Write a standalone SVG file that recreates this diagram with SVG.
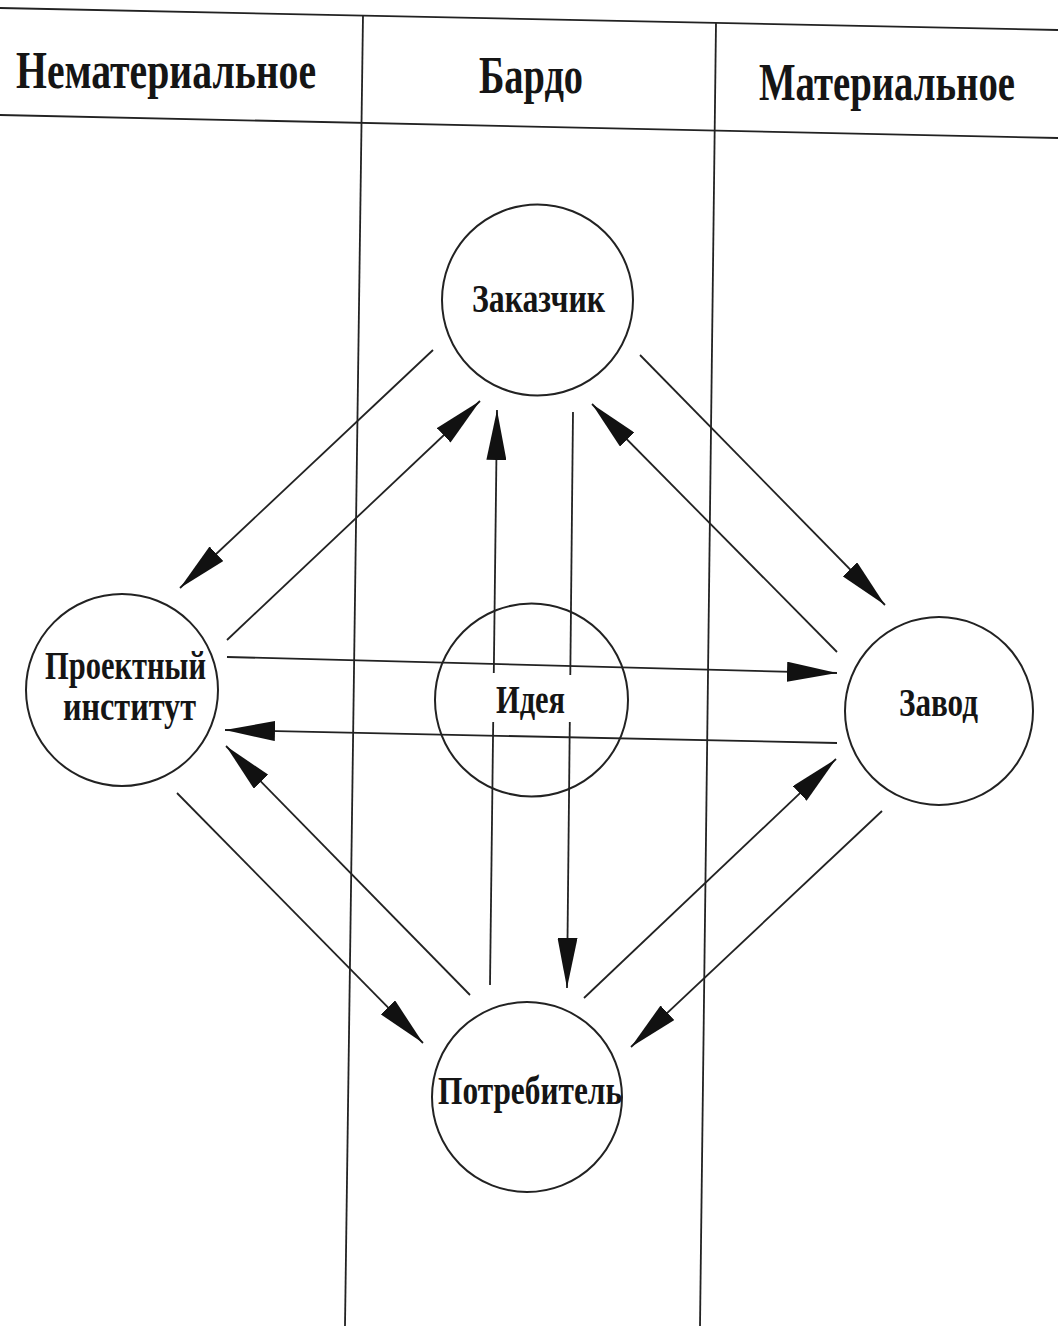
<svg xmlns="http://www.w3.org/2000/svg" width="1058" height="1326" viewBox="0 0 1058 1326">
  <defs>
    <marker id="arr" viewBox="0 0 50 20" refX="50" refY="10" markerWidth="50" markerHeight="20" markerUnits="userSpaceOnUse" orient="auto">
      <path d="M0,0 L50,10 L0,20 Z" fill="#111"/>
    </marker>
    <style>
      .ln { stroke: #222; stroke-width: 1.8; fill: none; }
      .arrow { stroke: #222; stroke-width: 1.8; fill: none; marker-end: url(#arr); }
      .node { fill: #fff; stroke: #222; stroke-width: 2; }
      .nt { font-family: "Liberation Serif", "DejaVu Serif", serif; font-weight: bold; font-size: 41px; fill: #151515; }
      .ht { font-family: "Liberation Serif", "DejaVu Serif", serif; font-weight: bold; font-size: 52px; fill: #151515; }
    </style>
  </defs>
  <rect width="1058" height="1326" fill="#ffffff"/>

  <g id="table">
    <line class="ln" x1="0" y1="8" x2="1058" y2="30"/>
    <line class="ln" x1="0" y1="115" x2="1058" y2="138"/>
    <line class="ln" x1="363" y1="15" x2="345" y2="1326"/>
    <line class="ln" x1="716" y1="23" x2="700" y2="1326"/>
    <text class="ht" x="16" y="88" textLength="300" lengthAdjust="spacingAndGlyphs">Нематериальное</text>
    <text class="ht" x="479" y="93" textLength="104" lengthAdjust="spacingAndGlyphs">Бардо</text>
    <text class="ht" x="759" y="100" textLength="256" lengthAdjust="spacingAndGlyphs">Материальное</text>
  </g>

  <g id="connectors">
    <line class="arrow" x1="433" y1="350" x2="180" y2="588"/>
    <line class="arrow" x1="227" y1="640" x2="480" y2="401"/>
    <line class="ln" x1="490" y1="985" x2="493.2" y2="722"/>
    <line class="arrow" x1="493.8" y1="673" x2="497" y2="410"/>
    <line class="ln" x1="573" y1="412" x2="570.3" y2="675"/>
    <line class="arrow" x1="569.8" y1="722" x2="567" y2="988"/>
    <line class="arrow" x1="640" y1="355" x2="885" y2="605"/>
    <line class="arrow" x1="837" y1="652" x2="592" y2="404"/>
    <line class="arrow" x1="227" y1="657" x2="837" y2="673"/>
    <line class="arrow" x1="837" y1="743" x2="225" y2="730"/>
    <line class="arrow" x1="177" y1="793" x2="423" y2="1043"/>
    <line class="arrow" x1="470" y1="995" x2="226" y2="746"/>
    <line class="arrow" x1="584" y1="998" x2="836" y2="759"/>
    <line class="arrow" x1="882" y1="811" x2="631" y2="1047"/>
  </g>

  <g id="node-zakazchik">
    <circle class="node" cx="537.5" cy="300" r="95.5"/>
    <text class="nt" x="472" y="312" textLength="133" lengthAdjust="spacingAndGlyphs">Заказчик</text>
  </g>
  <g id="node-proektny">
    <circle class="node" cx="122" cy="690" r="96"/>
    <text class="nt" x="45" y="679" textLength="161" lengthAdjust="spacingAndGlyphs">Проектный</text>
    <text class="nt" x="63" y="720" textLength="133" lengthAdjust="spacingAndGlyphs">институт</text>
  </g>
  <g id="node-ideya">
    <circle cx="531.5" cy="700" r="96.5" fill="none" stroke="#222" stroke-width="2"/>
    <text class="nt" x="496" y="713" textLength="69" lengthAdjust="spacingAndGlyphs">Идея</text>
  </g>
  <g id="node-zavod">
    <circle class="node" cx="939" cy="711" r="94"/>
    <text class="nt" x="899" y="716" textLength="79" lengthAdjust="spacingAndGlyphs">Завод</text>
  </g>
  <g id="node-potrebitel">
    <circle class="node" cx="527" cy="1097" r="95"/>
    <text class="nt" x="438" y="1104" textLength="184" lengthAdjust="spacingAndGlyphs">Потребитель</text>
  </g>
</svg>
